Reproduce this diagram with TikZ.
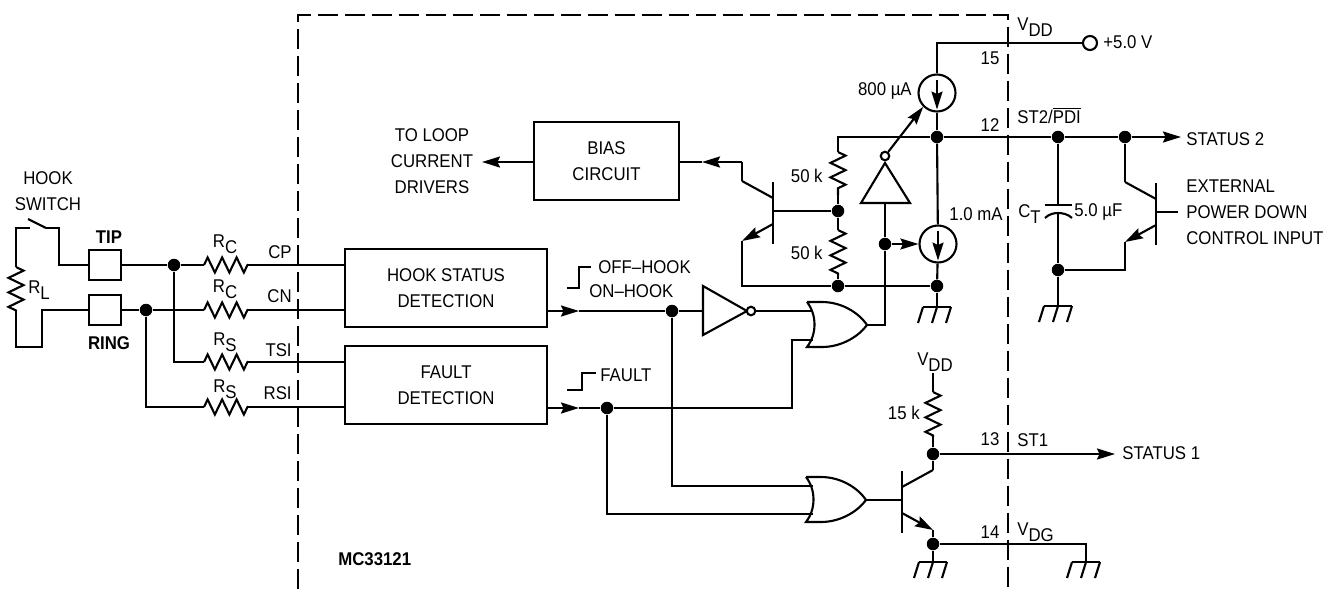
\documentclass[tikz,border=0pt]{standalone}
\usepackage{fontspec}
\setmainfont[FakeStretch=0.91]{Liberation Sans}
\usetikzlibrary{arrows.meta}
\usetikzlibrary{decorations.pathmorphing}

\newcommand{\lowsub}[1]{\raisebox{-0.33em}{#1}}

\tikzset{
  wire/.style={line width=1.2pt},
  border/.style={line width=1.5pt, dash pattern=on 0.4cm off 0.14cm},
  rzig/.style={wire, decorate, decoration={zigzag, segment length=0.29cm, amplitude=0.15cm}},
  tipa/.style={-{Stealth[length=0.36cm, width=0.22cm, inset=0.05cm]}},
  txt/.style={inner sep=0pt, align=center, font=\fontsize{10.5}{14.7}\selectfont},
  boldtxt/.style={txt, font=\fontsize{10.5}{14.7}\selectfont\bfseries},
  block/.style={txt, draw, wire},
  junction/.style={circle, fill=black, inner sep=0pt, minimum size=0.25cm},
  bubble/.style={circle, draw, wire, fill=white, inner sep=0pt, minimum size=0.17cm},
  srccircle/.style={circle, draw, wire, inner sep=0pt, minimum size=0.74cm},
  gndsym/.pic={
    \draw[wire] (-14,0) -- (14,0);
    \foreach \tx in {-14,0,14} {\draw[wire] (\tx,0) -- ++(-5,16);}
  },
  orsym/.pic={
    \draw[wire] (0,0) -- (15,0) .. controls (35,0) and (52,11) .. (60,23)
      .. controls (52,34) and (35,45) .. (15,45) -- (0,45)
      .. controls (10,32) and (10,13) .. (0,0);
  },
  transq/.pic={
    \draw[wire] (0,-29) -- (0,33);
    \coordinate (-b) at (0,0);
    \coordinate (-c) at (-31,-30);
    \coordinate (-e) at (-31,30);
    \draw[wire] (0,-13) -- (-c);
    \draw[wire, tipa] (0,13) -- (-e);
  },
}

\begin{document}
\begin{tikzpicture}[x=0.02cm, y=-0.02cm]
  \useasboundingbox (0,0) rectangle (1331,589);

  % chip outline
  \draw[border] (298,589) -- (298,15) -- (1008,15) -- (1008,589);
  \node[boldtxt, anchor=west] (partno) at (338,559) {MC33121};

  % line side
  \node[block, minimum width=0.64cm, minimum height=0.6cm] (tipbox) at (105,265) {};
  \node[block, minimum width=0.64cm, minimum height=0.6cm] (ringbox) at (105,310) {};
  \node[boldtxt] (tiptxt) at (109,237) {TIP};
  \node[boldtxt] (ringtxt) at (109,343) {RING};
  \node[txt] (switchtxt) at (48,191) {HOOK\\SWITCH};
  \node[txt, anchor=base west] (rltxt) at (28,293) {R\lowsub{L}};
  \coordinate (swa) at (16,228);
  \coordinate (swb) at (30,228);
  \coordinate (swc) at (46,228);
  \coordinate (rla) at (16,267);
  \coordinate (rlb) at (16,311);
  \coordinate (rlc) at (16,347);
  \coordinate (ringin) at (42,310);
  \draw[wire] (swb) -- (swa) -- (rla);
  \draw[rzig] (rla) -- (rlb);
  \draw[wire] (rlb) -- (rlc) -| (ringin) -- (ringbox.west);
  \draw[wire] (28,219) -- (swc);
  \draw[wire] (swc) -- (59,228) |- (tipbox.west);

  % input resistors
  \node[block, minimum width=4.04cm, minimum height=1.56cm] (hookbox) at (446,288) {HOOK STATUS\\DETECTION};
  \node[block, minimum width=4.04cm, minimum height=1.56cm] (faultbox) at (446,385) {FAULT\\DETECTION};
  \node[junction] (tipj) at (174,265) {};
  \node[junction] (ringj) at (146,310) {};
  \coordinate (rcpa) at (204,265);
  \coordinate (rcpb) at (248,265);
  \coordinate (rcna) at (204,310);
  \coordinate (rcnb) at (248,310);
  \coordinate (rtsa) at (204,362);
  \coordinate (rtsb) at (248,362);
  \coordinate (rrsa) at (204,407);
  \coordinate (rrsb) at (248,407);
  \draw[wire] (tipbox.east) -- (tipj) -- (rcpa);
  \draw[wire] (ringbox.east) -- (ringj) -- (rcna);
  \draw[wire] (tipj) |- (rtsa);
  \draw[wire] (ringj) |- (rrsa);
  \foreach \ra/\rb in {rcpa/rcpb, rcna/rcnb, rtsa/rtsb, rrsa/rrsb} {
    \draw[rzig] (\ra) -- (\rb);
    \draw[wire] (\rb) -- (\rb -| hookbox.west);
  }
  \node[txt, anchor=base] (rcptxt) at (225,247) {R\lowsub{C}};
  \node[txt, anchor=base] (rcntxt) at (225,292) {R\lowsub{C}};
  \node[txt, anchor=base] (rtstxt) at (225,345) {R\lowsub{S}};
  \node[txt, anchor=base] (rrstxt) at (225,392) {R\lowsub{S}};
  \node[txt, anchor=east] (cptxt) at (292,252) {CP};
  \node[txt, anchor=east] (cntxt) at (292,296) {CN};
  \node[txt, anchor=east] (tsitxt) at (292,350) {TSI};
  \node[txt, anchor=east] (rsitxt) at (292,393) {RSI};

  % detector outputs
  \draw[wire] (567,288) -- (579,288) -- (579,267) -- (591,267);
  \draw[wire] (567,390) -- (582,390) -- (582,373) -- (596,373);
  \node[txt, anchor=west] (offtxt) at (598,267) {OFF–HOOK};
  \node[txt, anchor=west] (ontxt) at (589,291) {ON–HOOK};
  \node[txt, anchor=west] (flttxt) at (600,375) {FAULT};
  \node[junction] (hookj) at (672,311) {};
  \node[junction] (faultj) at (607,408) {};
  \coordinate (hooktip) at (579,311);
  \coordinate (faulttip) at (579,408);
  \draw[wire, tipa] (hookbox.east |- hooktip) -- (hooktip);
  \draw[wire] (hooktip) -- (hookj);
  \draw[wire, tipa] (faultbox.east |- faulttip) -- (faulttip);
  \draw[wire] (faulttip) -- (faultj);

  % inverter and first or
  \coordinate (inva) at (703,286);
  \coordinate (invb) at (703,335);
  \coordinate (invc) at (747,311);
  \draw[wire] (inva) -- (invc) -- (invb) -- cycle;
  \node[bubble] (invbub) at (751,311) {};
  \pic (ormid) at (807,302) {orsym};
  \coordinate (ormidout) at (867,325);
  \coordinate (ormidb) at (792,340);
  \draw[wire] (hookj) -- (inva |- hookj);
  \draw[wire] (invbub) -- (811,311);
  \draw[wire] (faultj) -- (ormidb |- faultj) -- (ormidb) -- (813,340);

  % upper rail and buffer
  \node[junction] (railj) at (937,137) {};
  \node[junction] (midj) at (838,211) {};
  \node[junction] (lowj) at (838,286) {};
  \node[junction] (gndj) at (937,286) {};
  \node[junction] (bufj) at (885,244) {};
  \node[srccircle] (srctop) at (937,93) {};
  \node[srccircle] (srclow) at (938,244) {};
  \node[bubble] (bufbub) at (885,156) {};
  \coordinate (bufa) at (885,163);
  \coordinate (bufb) at (910,203);
  \coordinate (bufc) at (861,203);
  \draw[wire] (bufa) -- (bufb) -- (bufc) -- cycle;
  \draw[wire] (ormidout) -- (ormidout -| bufj) -- (bufj) -- (bufa |- bufb);
  \draw[wire, tipa] (bufj) -- (srclow.west);
  \draw[wire, tipa] (bufbub) -- (srctop.225);
  \foreach \cs in {srctop, srclow} {
    \draw[wire, tipa] ([yshift=-0.14cm]\cs.north) -- ([yshift=0.06cm]\cs.south);
  }
  \draw[wire] (railj) -- (srctop);
  \draw[wire] (railj) -- (srclow);
  \draw[wire] (srclow) -- (gndj);
  \pic at (937,307) {gndsym};
  \coordinate (gndtop) at (937,307);
  \draw[wire] (gndj) -- (gndtop);

  % divider
  \coordinate (ruletop) at (838,137);
  \coordinate (r50a) at (838,152);
  \coordinate (r50b) at (838,195);
  \coordinate (r50c) at (838,230);
  \coordinate (r50d) at (838,275);
  \draw[wire] (railj) -- (ruletop) -- (r50a);
  \draw[rzig] (r50a) -- (r50b);
  \draw[wire] (r50b) -- (midj) -- (r50c);
  \draw[rzig] (r50c) -- (r50d);
  \draw[wire] (r50d) -- (lowj);
  \draw[wire] (lowj) -- (gndj);
  \node[txt, anchor=east] (r50atxt) at (823,176) {50 k};
  \node[txt, anchor=east] (r50btxt) at (823,253) {50 k};
  \node[txt, anchor=east] (i800txt) at (912,91) {800 µA};
  \node[txt, anchor=east] (i1txt) at (1003,214) {1.0 mA};

  % bias transistor and block
  \pic (qbias) at (773,211) {transq};
  \node[block, minimum width=2.9cm, minimum height=1.56cm] (biasbox) at (606.5,161) {BIAS\\CIRCUIT};
  \node[txt] (looptxt) at (432,161) {TO LOOP\\CURRENT\\DRIVERS};
  \coordinate (biastip) at (702,162);
  \coordinate (drvtip) at (482,162);
  \coordinate (qbiasup) at (742,162);
  \draw[wire] (qbias-b) -- (midj);
  \draw[wire] (qbias-c) -- (qbiasup);
  \draw[wire, tipa] (qbiasup) -- (biastip);
  \draw[wire] (biastip) -- (biasbox.east |- biastip);
  \draw[wire, tipa] (biasbox.west |- drvtip) -- (drvtip);
  \draw[wire] (qbias-e) -- (qbias-e |- lowj) -- (lowj);

  % supply pin
  \node[circle, draw, wire, inner sep=0pt, minimum size=0.28cm] (vddpin) at (1090,43) {};
  \node[txt, anchor=west] (fivev) at (1103,42) {+5.0 V};
  \node[txt, anchor=base west] (vddtxt) at (1017,30) {V\lowsub{DD}};
  \node[txt] (pin15) at (990,58) {15};
  \node[txt] (pin12) at (990,125) {12};
  \coordinate (vddleft) at (937,43);
  \draw[wire] (srctop) -- (vddleft) -- (vddpin);

  % status 2
  \node[junction] (capj) at (1058,137) {};
  \node[junction] (colj) at (1125,137) {};
  \node[junction] (capb) at (1058,270) {};
  \coordinate (st2tip) at (1181,137);
  \draw[wire] (railj) -- (capj) -- (colj);
  \draw[wire, tipa] (colj) -- (st2tip);
  \node[txt, anchor=west] (st2name) at (1017,115) {ST2/$\overline{\mbox{PDI}}$};
  \node[txt, anchor=west] (st2txt) at (1186,139) {STATUS 2};
  \coordinate (capa) at (1058,205);
  \coordinate (capc) at (1058,213);
  \draw[wire] (capj) -- (capa);
  \draw[wire] (1045,205) -- (1072,205);
  \draw[wire] (1045,218) .. controls (1049,214) and (1054,213) .. (capc) .. controls (1062,213) and (1068,214) .. (1072,218);
  \draw[wire] (capc) -- (capb);
  \pic at (1058,306) {gndsym};
  \coordinate (capgnd) at (1058,306);
  \draw[wire] (capb) -- (capgnd);
  \node[txt, anchor=base west] (cttxt) at (1018,217) {C\lowsub{T}};
  \node[txt, anchor=west] (cvaltxt) at (1074,212) {5.0 µF};
  \pic (qpd) at (1156,212) {transq};
  \coordinate (pdin) at (1178,212);
  \draw[wire] (qpd-b) -- (pdin);
  \draw[wire] (colj) -- (qpd-c);
  \draw[wire] (qpd-e) -- (qpd-e |- capb) -- (capb);
  \node[txt, anchor=west, align=left] (pdtxt) at (1186,212) {EXTERNAL\\POWER DOWN\\CONTROL INPUT};

  % status 1
  \pic (orlow) at (806,477) {orsym};
  \coordinate (orlowa) at (813,486);
  \coordinate (orlowb) at (813,514);
  \pic[xscale=-1] (qst) at (902,500) {transq};
  \node[junction] (st1j) at (933,454) {};
  \node[junction] (st1g) at (933,544) {};
  \coordinate (st1tip) at (1115,454);
  \coordinate (r15a) at (933,392);
  \coordinate (r15b) at (933,437);
  \node[txt, anchor=base] (vdd2txt) at (935,365) {V\lowsub{DD}};
  \node[txt, anchor=east] (r15txt) at (920,413) {15 k};
  \draw[wire] (hookj) |- (orlowa);
  \draw[wire] (faultj) |- (orlowb);
  \draw[wire] (866,500) -- (qst-b);
  \draw[wire] (933,373) -- (r15a);
  \draw[rzig] (r15a) -- (r15b);
  \draw[wire] (r15b) -- (st1j) -- (qst-c);
  \draw[wire] (qst-e) -- (st1g);
  \draw[wire, tipa] (st1j) -- (st1tip);
  \node[txt, anchor=west] (st1txt) at (1122,453) {STATUS 1};
  \node[txt] (pin13) at (990,439) {13};
  \node[txt] (pin14) at (990,532) {14};
  \node[txt, anchor=west] (st1name) at (1017,440) {ST1};
  \node[txt, anchor=base west] (vdgtxt) at (1017,535) {V\lowsub{DG}};
  \pic at (933,562) {gndsym};
  \pic at (1086,562) {gndsym};
  \coordinate (gnda) at (933,562);
  \coordinate (gndb) at (1086,562);
  \draw[wire] (st1g) -- (gnda);
  \draw[wire] (st1g) -- (gndb |- st1g) -- (gndb);
\end{tikzpicture}
\end{document}
